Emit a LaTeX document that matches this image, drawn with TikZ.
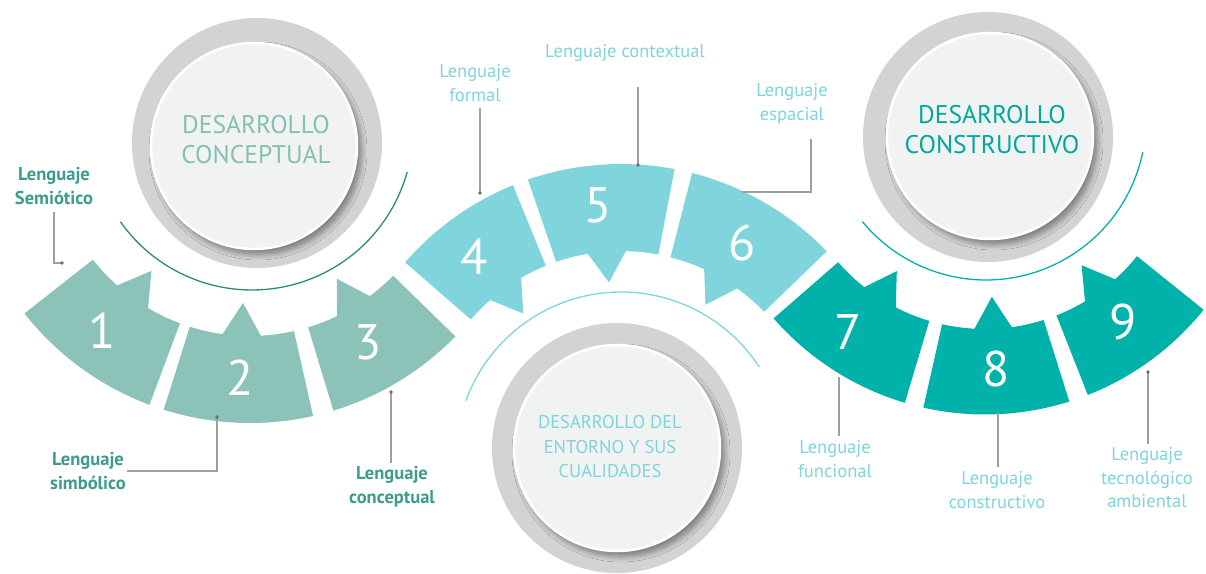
\documentclass[tikz,border=0pt]{standalone}
\usepackage{fontspec}
\setmainfont{PT Sans}
\usetikzlibrary{shadows.blur}

\definecolor{sage}{HTML}{8CC3B9}
\definecolor{cyanl}{HTML}{7FD5DB}
\definecolor{tealc}{HTML}{00B2A9}
\definecolor{arcteal}{HTML}{2A8C7B}
\definecolor{labteal}{HTML}{3E9C8B}
\definecolor{ringgray}{HTML}{D1D3D4}
\definecolor{diskfill}{HTML}{F1F2F2}
\definecolor{linegray}{HTML}{A0A0A0}
\definecolor{dotgray}{HTML}{6A6A6A}
\definecolor{sagetext}{HTML}{86C0B4}
\definecolor{tealtext}{HTML}{00A99D}

\tikzset{
  digit/.style={text=white, font=\fontsize{50}{50}\selectfont, inner sep=0pt},
  labA/.style={text=labteal, font=\bfseries\fontsize{18.5}{23.5}\selectfont, align=center, inner sep=1pt},
  labB/.style={text=cyanl, font=\fontsize{18.5}{23.5}\selectfont, align=center, inner sep=1pt},
  conn/.style={draw=linegray, line width=1.3pt},
  ringnode/.style={circle, fill=ringgray, minimum size=250pt, inner sep=0pt},
  disknode/.style={circle, fill=diskfill, draw=white, line width=2.5pt, minimum size=206pt, inner sep=0pt,
    blur shadow={shadow xshift=4pt, shadow yshift=-5pt, shadow blur steps=12, shadow opacity=45, shadow blur radius=6pt}},
  ctitle/.style={align=center, font=\fontsize{25.5}{30}\selectfont, inner sep=0pt},
  ctitlesmall/.style={align=center, font=\fontsize{18.5}{24.5}\selectfont, inner sep=0pt},
  thinarc/.style={line width=1.3pt},
}

\begin{document}
\begin{tikzpicture}[x=1pt,y=-1pt]
\fill[white] (0,0) rectangle (1206,573);
\useasboundingbox (0,0) rectangle (1206,573);

% ---------- segments, group 1
\def\Ro{287}\def\Ri{200}\def\Rt{167}
\begin{scope}[shift={(250,136)}]
\foreach \a/\b in {110.5/141.8, 77.3/107.5, 44.3/73.1}{
  \pgfmathsetmacro\mm{(\a+\b)/2-5.5}
  \pgfmathsetmacro\mp{(\a+\b)/2+5.5}
  \pgfmathsetmacro\mc{(\a+\b)/2}
  \fill[sage] plot[domain=\a:\b,samples=30] (\x:\Ro)
     -- plot[domain=\b:\mp,samples=10] (\x:\Ri)
     -- (\mc:\Rt)
     -- plot[domain=\mm:\a,samples=10] (\x:\Ri) -- cycle;
}
\end{scope}

% ---------- segments, group 2
\def\Ro{286}\def\Ri{199}\def\Rt{168}
\begin{scope}[shift={(621,450)}]
\foreach \a/\b in {-139/-112.2, -109/-79.2, -75.6/-44}{
  \pgfmathsetmacro\mm{(\a+\b)/2-5.5}
  \pgfmathsetmacro\mp{(\a+\b)/2+5.5}
  \pgfmathsetmacro\mc{(\a+\b)/2}
  \fill[cyanl] plot[domain=\a:\b,samples=30] (\x:\Ro)
     -- plot[domain=\b:\mp,samples=10] (\x:\Ri)
     -- (\mc:\Rt)
     -- plot[domain=\mm:\a,samples=10] (\x:\Ri) -- cycle;
}
\end{scope}

% ---------- segments, group 3
\def\Ro{280.5}\def\Ri{195}\def\Rt{163}
\begin{scope}[shift={(985,134)}]
\foreach \a/\b in {106.6/138.9, 72.5/102.7, 38.8/68.5}{
  \pgfmathsetmacro\mm{(\a+\b)/2-5.5}
  \pgfmathsetmacro\mp{(\a+\b)/2+5.5}
  \pgfmathsetmacro\mc{(\a+\b)/2}
  \fill[tealc] plot[domain=\a:\b,samples=30] (\x:\Ro)
     -- plot[domain=\b:\mp,samples=10] (\x:\Ri)
     -- (\mc:\Rt)
     -- plot[domain=\mm:\a,samples=10] (\x:\Ri) -- cycle;
}
\end{scope}

% ---------- digits
\node[digit] (n1) at (102,331) {1};
\node[digit] (n2) at (240,378) {2};
\node[digit] (n3) at (368,342) {3};
\node[digit] (n4) at (474,257) {4};
\node[digit] (n5) at (598,205) {5};
\node[digit] (n6) at (742,243) {6};
\node[digit] (n7) at (848,332) {7};
\node[digit] (n8) at (996,369) {8};
\node[digit] (n9) at (1123,322) {9};

% ---------- thin arcs
\draw[thinarc, arcteal] plot[domain=15.5:144.8,samples=80] ({252+161*cos(\x)},{129+161*sin(\x)});
\draw[thinarc, cyanl] plot[domain=-160:-33,samples=80] ({621+165*cos(\x)},{457+165*sin(\x)});
\draw[thinarc, tealc] plot[domain=11.5:140.6,samples=80] ({986+160*cos(\x)},{120+160*sin(\x)});

% ---------- circles
\node[ringnode] (ring1) at (257,143) {};
\node[disknode] (disk1) at (254,146) {};
\node[ctitle, text=sagetext] (t1) at (256,140) {DESARROLLO\\CONCEPTUAL};

\node[ringnode] (ring2) at (617,448) {};
\node[disknode] (disk2) at (617,448) {};
\node[ctitlesmall, text=cyanl] (t2) at (610,447) {DESARROLLO DEL\\ENTORNO Y SUS\\CUALIDADES};

\node[ringnode] (ring3) at (988,137) {};
\node[disknode] (disk3) at (990,136) {};
\node[ctitle, text=tealtext] (t3) at (992,130) {DESARROLLO\\CONSTRUCTIVO};

% ---------- labels
\node[labA] (lsem) at (54,186) {Lenguaje\\Semiótico};
\node[labA] (lsim) at (88,471) {Lenguaje\\simbólico};
\node[labA] (lcon) at (392,487) {Lenguaje\\conceptual};
\node[labB] (lfor) at (475,83) {Lenguaje\\formal};
\node[labB] (lctx) at (625,53) {Lenguaje contextual};
\node[labB] (lesp) at (792,104) {Lenguaje\\espacial};
\node[labB] (lfun) at (835,459) {Lenguaje\\funcional};
\node[labB] (lcst) at (997,490) {Lenguaje\\constructivo};
\node[labB] (ltec) at (1147,478) {Lenguaje\\tecnológico\\ambiental};

% ---------- connector end points
\coordinate (d1) at (62,263);
\coordinate (d2) at (217,417);
\coordinate (d3) at (391,392);
\coordinate (d4) at (480,193);
\coordinate (d5) at (638,165);
\coordinate (k6) at (811,192);
\coordinate (d6) at (742,192);
\coordinate (d7) at (839,377);
\coordinate (d8) at (998,413);
\coordinate (d9) at (1148,372);

% ---------- connectors
\draw[conn, shorten <=6pt] (lsem.south) |- (d1);
\draw[conn] (lsim.east) -| (d2);
\draw[conn, shorten <=3pt] (lcon.north -| d3) -- (d3);
\draw[conn, shorten <=5pt] (lfor.south -| d4) -- (d4);
\draw[conn, shorten <=24pt] (lctx.south -| d5) -- (d5);
\draw[conn, shorten <=14pt] (lesp.south -| k6) -- (k6) -- (d6);
\draw[conn, shorten <=3pt] (lfun.north -| d7) -- (d7);
\draw[conn, shorten <=3pt] (lcst.north -| d8) -- (d8);
\draw[conn, shorten <=3pt] (ltec.north -| d9) -- (d9);

\foreach \d in {d1,d2,d3,d4,d5,d9}{ \fill[dotgray] (\d) circle[radius=1.8pt]; }
\end{tikzpicture}
\end{document}
